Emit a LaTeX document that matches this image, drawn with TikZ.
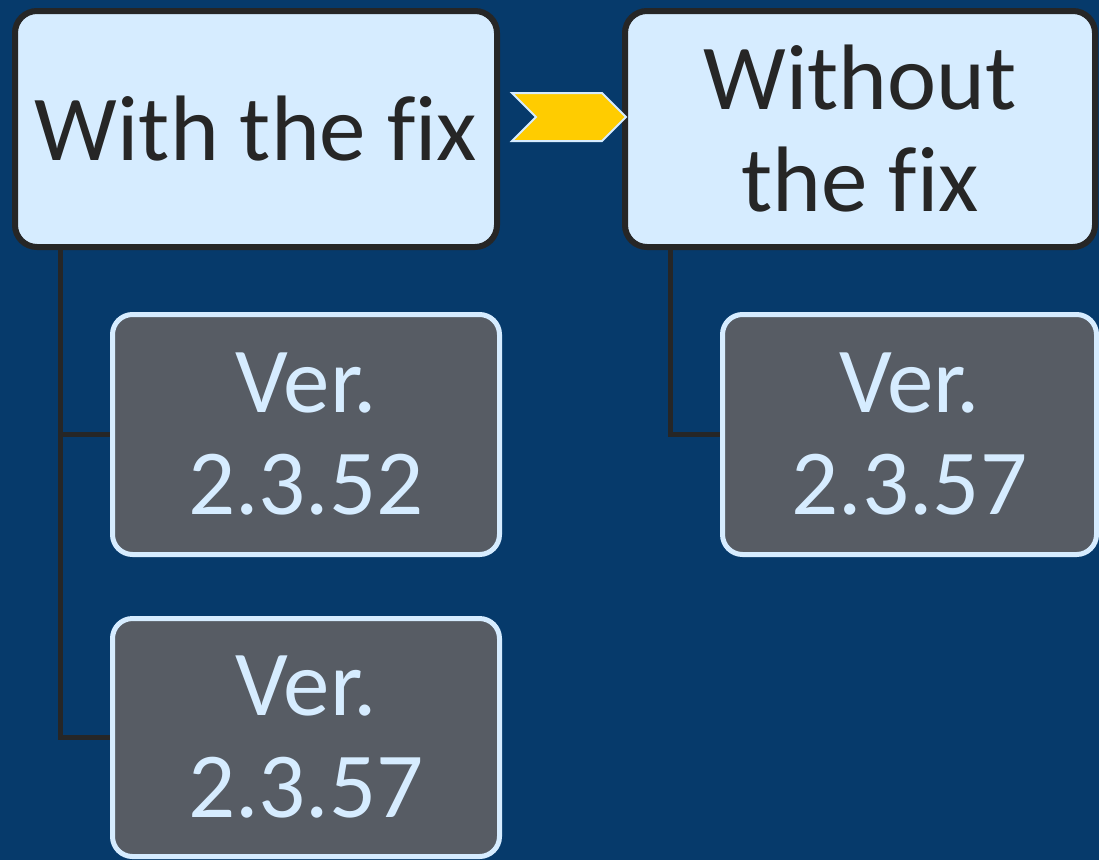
\documentclass[tikz,border=0pt]{standalone}
\usepackage{fontspec}
\setmainfont{Carlito}[Ligatures=NoCommon]
\usepackage{xcolor}
\usepackage{tikz}
\usetikzlibrary{positioning,calc,shapes.symbols}

\definecolor{navy}{HTML}{063A6B}
\definecolor{paleblue}{HTML}{D6ECFF}
\definecolor{slate}{HTML}{575C64}
\definecolor{ink}{HTML}{262626}
\definecolor{amber}{HTML}{FFCC00}

\begin{document}
\begin{tikzpicture}[x=1pt,y=-1pt,
  every node/.style={font=\fontsize{93}{102}\selectfont,align=center,inner sep=0pt},
  topbox/.style={draw=ink,line width=6pt,fill=paleblue,text=ink,rounded corners=22pt,minimum height=236pt},
  verbox/.style={draw=paleblue,line width=5pt,fill=slate,text=paleblue,rounded corners=20pt,minimum height=240pt},
  link/.style={draw=ink,line width=5pt}]
  % background
  \fill[navy] (0,0) rectangle (1099,860);
  \useasboundingbox (0,0) rectangle (1099,860);
  % headers
  \node[topbox,minimum width=482pt] (withfix) at (256,129) {With the fix};
  \node[topbox,minimum width=470pt] (nofix) at (860,129) {Without\\the fix};
  % chevron between the headers
  \node[signal,signal to=east,signal from=west,fill=amber,draw=paleblue,line width=2pt,
        minimum width=114pt,minimum height=48pt] (step1) at (569,117) {};
  % versions
  \node[verbox,minimum width=387pt] (v52) at (306,434.5) {Ver.\\2.3.52};
  \node[verbox,minimum width=387pt,minimum height=238pt] (v57a) at (306,737.5) {Ver.\\2.3.57};
  \node[verbox,minimum width=374pt] (v57b) at (909.5,434.5) {Ver.\\2.3.57};
  % tree lines
  \draw[link] ($(withfix.south west)+(48,-3)$) |- (v52.west);
  \draw[link] ($(withfix.south west)+(48,-3)$) |- (v57a.west);
  \draw[link] ($(nofix.south west)+(48,-3)$) |- (v57b.west);
\end{tikzpicture}
\end{document}
